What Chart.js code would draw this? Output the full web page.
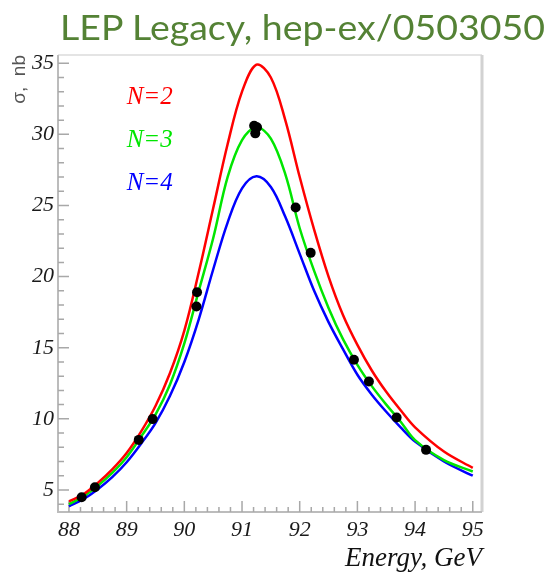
<!DOCTYPE html>
<html>
<head>
<meta charset="utf-8">
<script src="https://cdn.jsdelivr.net/npm/chart.js@4.4.1/dist/chart.umd.min.js"></script>
<style>
  body { margin: 0; background: #fff; }
  #wrap { position: relative; width: 551px; height: 575px; }
  #title {
    position: absolute; left: 60px; top: 9px;
    display: inline-block; white-space: nowrap;
    font-family: Lato, "Open Sans", sans-serif; font-size: 35px; line-height: 1;
    color: #548235; transform-origin: left top;
  }
  canvas { position: absolute; left: 0; top: 0; }
</style>
</head>
<body>
<div id="wrap">
  <canvas id="zChart" width="551" height="575"></canvas>
  <div id="title">LEP Legacy, hep-ex/0503050</div>
</div>
<script>
// energy grid the curves were read at (GeV)
var energy = [88, 88.25, 88.5, 88.75, 89, 89.25, 89.5, 89.75, 90, 90.25, 90.5, 90.75, 91, 91.25,
              91.5, 91.75, 92, 92.25, 92.5, 92.75, 93, 93.25, 93.5, 93.75, 94, 94.5, 95];
// cross section for 2, 3, 4 neutrino families (nb)
var sigmaN2 = [4.2, 4.7, 5.5, 6.45, 7.6, 9.1, 10.9, 13.2, 16.2, 20.3, 24.8, 29.3, 33.0, 34.9,
               34.0, 31.0, 27.0, 23.3, 20.0, 17.3, 15.2, 13.4, 11.9, 10.6, 9.4, 7.7, 6.55];
var sigmaN3 = [4.0, 4.55, 5.3, 6.2, 7.3, 8.75, 10.3, 12.4, 15.3, 19.0, 22.7, 27.0, 29.6, 30.5,
               29.7, 27.2, 23.4, 20.4, 17.8, 15.6, 13.8, 12.3, 11.0, 9.8, 8.5, 7.1, 6.3];
var sigmaN4 = [3.85, 4.35, 5.05, 5.9, 6.95, 8.25, 9.7, 11.6, 14.0, 17.0, 20.5, 23.8, 26.2, 27.05,
               26.3, 24.2, 21.6, 19.0, 16.8, 14.9, 13.1, 11.7, 10.5, 9.4, 8.4, 7.0, 6.0];
var curveLabels = ["N=2", "N=3", "N=4"];

// measured points
var dataE = [88.22, 88.45, 89.21, 89.45, 90.21, 90.22, 91.21, 91.26, 91.23, 91.93, 92.19, 92.94, 93.2, 93.68, 94.19];
var dataSigma = [4.49, 5.19, 8.52, 9.98, 17.9, 18.9, 30.6, 30.5, 30.07, 24.86, 21.67, 14.15, 12.63, 10.09, 7.82];

var xTicks = [88, 89, 90, 91, 92, 93, 94, 95];
var yTicks = [5, 10, 15, 20, 25, 30, 35];

var colors = ["#ff0000", "#00e600", "#0000ff"];

// fit the title to the reference width
var title = document.getElementById("title");
title.style.transform = "scaleX(" + (485 / title.getBoundingClientRect().width) + ")";

function pairs(xs, ys){
    return xs.map(function(x, i){ return {x: x, y: ys[i]}; });
}

function curve(values, i){
    return {
        label: curveLabels[i],
        data: pairs(energy, values),
        borderColor: colors[i],
        borderWidth: 2.5,
        pointRadius: 0,
        fill: false,
        tension: 0.35
    };
}

//ROOT-like frame with inward ticks
var frameAndTicks = {
    id: "frameAndTicks",
    beforeDatasetsDraw: function(chart){
        var ctx = chart.ctx, a = chart.chartArea;
        var xs = chart.scales.x, ys = chart.scales.y;
        ctx.save();
        ctx.lineWidth = 2;
        ctx.strokeStyle = "#e4e4e4";
        ctx.beginPath();
        ctx.moveTo(a.left, a.top); ctx.lineTo(a.right, a.top);
        ctx.stroke();
        ctx.lineWidth = 3;
        ctx.strokeStyle = "#d2d2d2";
        ctx.beginPath();
        ctx.moveTo(a.right, a.top); ctx.lineTo(a.right, a.bottom);
        ctx.stroke();
        ctx.lineWidth = 2;
        ctx.strokeStyle = "#bcbcbc";
        ctx.beginPath();
        ctx.moveTo(a.left, a.top); ctx.lineTo(a.left, a.bottom); ctx.lineTo(a.right, a.bottom);
        ctx.stroke();

        ctx.lineWidth = 1.5;
        ctx.strokeStyle = "#a8a8a8";
        ctx.beginPath();
        for (var k = 0; k <= 35; k++){
            var v = Math.round((88 + k * 0.2) * 10) / 10;
            if (v > xs.max) break;
            var px = xs.getPixelForValue(v);
            var len = (Math.abs(v - Math.round(v)) < 0.01) ? 11 : 5;
            ctx.moveTo(px, a.bottom); ctx.lineTo(px, a.bottom - len);
        }
        for (var y = 4; y <= 35; y++){
            var py = ys.getPixelForValue(y);
            var ylen = (y % 5 === 0) ? 11 : 6;
            ctx.moveTo(a.left, py); ctx.lineTo(a.left + ylen, py);
        }
        ctx.stroke();
        ctx.restore();
    },
    afterDatasetsDraw: function(chart){
        var ctx = chart.ctx, xs = chart.scales.x, ys = chart.scales.y;
        var labelY = [32.1, 29.1, 26.1];
        ctx.save();
        ctx.font = "italic 25px 'Liberation Serif', serif";
        ctx.textAlign = "left";
        ctx.textBaseline = "alphabetic";
        for (var i = 0; i < curveLabels.length; i++){
            ctx.fillStyle = colors[i];
            ctx.fillText(curveLabels[i], xs.getPixelForValue(89.0), ys.getPixelForValue(labelY[i]));
        }
        ctx.restore();
    }
};

var ctx = document.getElementById("zChart").getContext("2d");
var zChart = new Chart(ctx, {
    type: "line",
    data: {
        datasets: [
            {
                label: "data",
                data: pairs(dataE, dataSigma),
                showLine: false,
                pointRadius: 5,
                pointBorderWidth: 0,
                pointBackgroundColor: "#000",
                pointBorderColor: "#000"
            },
            curve(sigmaN2, 0),
            curve(sigmaN3, 1),
            curve(sigmaN4, 2)
        ]
    },
    options: {
        responsive: false,
        animation: false,
        devicePixelRatio: 1,
        layout: { padding: { left: 0, right: 69, top: 55, bottom: 0 } },
        plugins: {
            legend: { display: false },
            tooltip: { enabled: false }
        },
        scales: {
            x: {
                type: "linear",
                min: 87.81,
                max: 95.16,
                afterBuildTicks: function(scale){
                    scale.ticks = xTicks.map(function(v){ return {value: v}; });
                },
                afterFit: function(scale){ scale.height = 63; },
                grid: { display: false, drawTicks: false },
                border: { display: false },
                ticks: {
                    autoSkip: false,
                    maxRotation: 0,
                    padding: 5,
                    color: "#1a1a1a",
                    font: { family: "'Liberation Serif', serif", style: "italic", size: 22 }
                },
                title: {
                    display: true,
                    text: "Energy, GeV",
                    align: "end",
                    color: "#111",
                    padding: { top: 0, bottom: 0 },
                    font: { family: "'Liberation Serif', serif", style: "italic", size: 27 }
                }
            },
            y: {
                min: 3.45,
                max: 35.58,
                afterBuildTicks: function(scale){
                    scale.ticks = yTicks.map(function(v){ return {value: v}; });
                },
                afterFit: function(scale){ scale.width = 58; },
                grid: { display: false, drawTicks: false },
                border: { display: false },
                ticks: {
                    autoSkip: false,
                    padding: 4,
                    color: "#1a1a1a",
                    font: { family: "'Liberation Serif', serif", style: "italic", size: 22 }
                },
                title: {
                    display: true,
                    text: "σ,  nb",
                    align: "end",
                    color: "#555",
                    padding: { top: 8, bottom: 0 },
                    font: { family: "'Liberation Sans', sans-serif", size: 19 }
                }
            }
        }
    },
    plugins: [frameAndTicks]
});
</script>
</body>
</html>
